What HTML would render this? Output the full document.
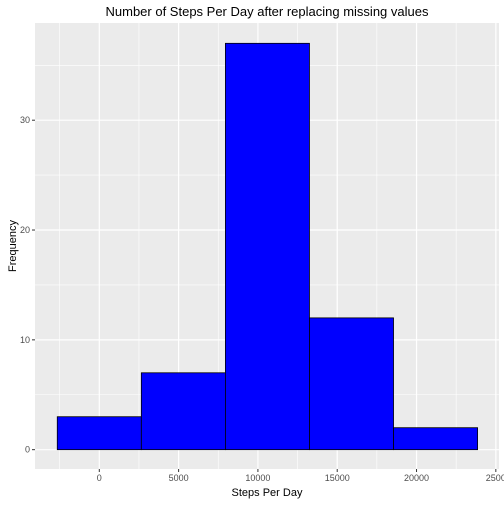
<!DOCTYPE html>
<html><head><meta charset="utf-8"><style>
body{margin:0;background:#fff;font-family:"Liberation Sans",sans-serif}
</style></head><body>
<svg width="504" height="504" xmlns="http://www.w3.org/2000/svg">
<g id="g"></g>
</svg>
<script>
const breaks=[-2650,2650,7950,13250,18550,23850];
const counts=[3,7,37,12,2];
const xTicks=[0,5000,10000,15000,20000,25000];
const xTickLabels=["0","5000","10000","15000","20000","2500"];
const yTicks=[0,10,20,30];
const L=35,R=499,T=23,B=469;
const xMin=-4054,xMax=25200,yMin=-1.76,yMax=38.85;
const X=v=>L+(v-xMin)/(xMax-xMin)*(R-L);
const Y=v=>B-(v-yMin)/(yMax-yMin)*(B-T);
const g=document.getElementById('g');
const NS='http://www.w3.org/2000/svg';
function mk(t,a,txt){const e=document.createElementNS(NS,t);for(const k in a)e.setAttribute(k,a[k]);if(txt!==undefined)e.textContent=txt;g.appendChild(e);return e;}
let e=mk('rect',{x:L,y:T,width:R-L,height:B-T,fill:'#EBEBEB'});


for(let i=0;i<xTicks.length;i++){const v=xTicks[i]-2500;if(X(v)>L&&X(v)<R){e=mk('line',{x1:X(v),x2:X(v),y1:T,y2:B,stroke:'#fff','stroke-width':0.6});}}
for(const t of yTicks){const v=t+5;if(Y(v)>T){e=mk('line',{x1:L,x2:R,y1:Y(v),y2:Y(v),stroke:'#fff','stroke-width':0.6});}}
xTicks.forEach((t,i)=>{
e=mk('line',{x1:X(t),x2:X(t),y1:T,y2:B,stroke:'#fff','stroke-width':1.2});


e=mk('line',{x1:X(t),x2:X(t),y1:B,y2:B+3,stroke:'#333','stroke-width':1});


e=mk('text',{x:X(t),y:B+12,'text-anchor':'middle','font-size':9,fill:'#4D4D4D'},xTickLabels[i]);


});
yTicks.forEach(t=>{
e=mk('line',{x1:L,x2:R,y1:Y(t),y2:Y(t),stroke:'#fff','stroke-width':1.2});


e=mk('line',{x1:L-3,x2:L,y1:Y(t),y2:Y(t),stroke:'#333','stroke-width':1});


e=mk('text',{x:L-5,y:Y(t)+3,'text-anchor':'end','font-size':9,fill:'#4D4D4D'},String(t));


});
counts.forEach((c,i)=>{
e=mk('rect',{x:X(breaks[i]),y:Y(c),width:X(breaks[i+1])-X(breaks[i]),height:Y(0)-Y(c),fill:'#0000FF',stroke:'#000','stroke-width':0.8});


});
e=mk('text',{x:(L+R)/2,y:16,'text-anchor':'middle','font-size':13,fill:'#000'},'Number of Steps Per Day after replacing missing values');


e=mk('text',{x:(L+R)/2,y:496,'text-anchor':'middle','font-size':11,fill:'#000'},'Steps Per Day');


e=mk('text',{x:16,y:(T+B)/2,'text-anchor':'middle','font-size':11,fill:'#000',transform:`rotate(-90 16 ${(T+B)/2})`},'Frequency');


</script>
</body></html>
